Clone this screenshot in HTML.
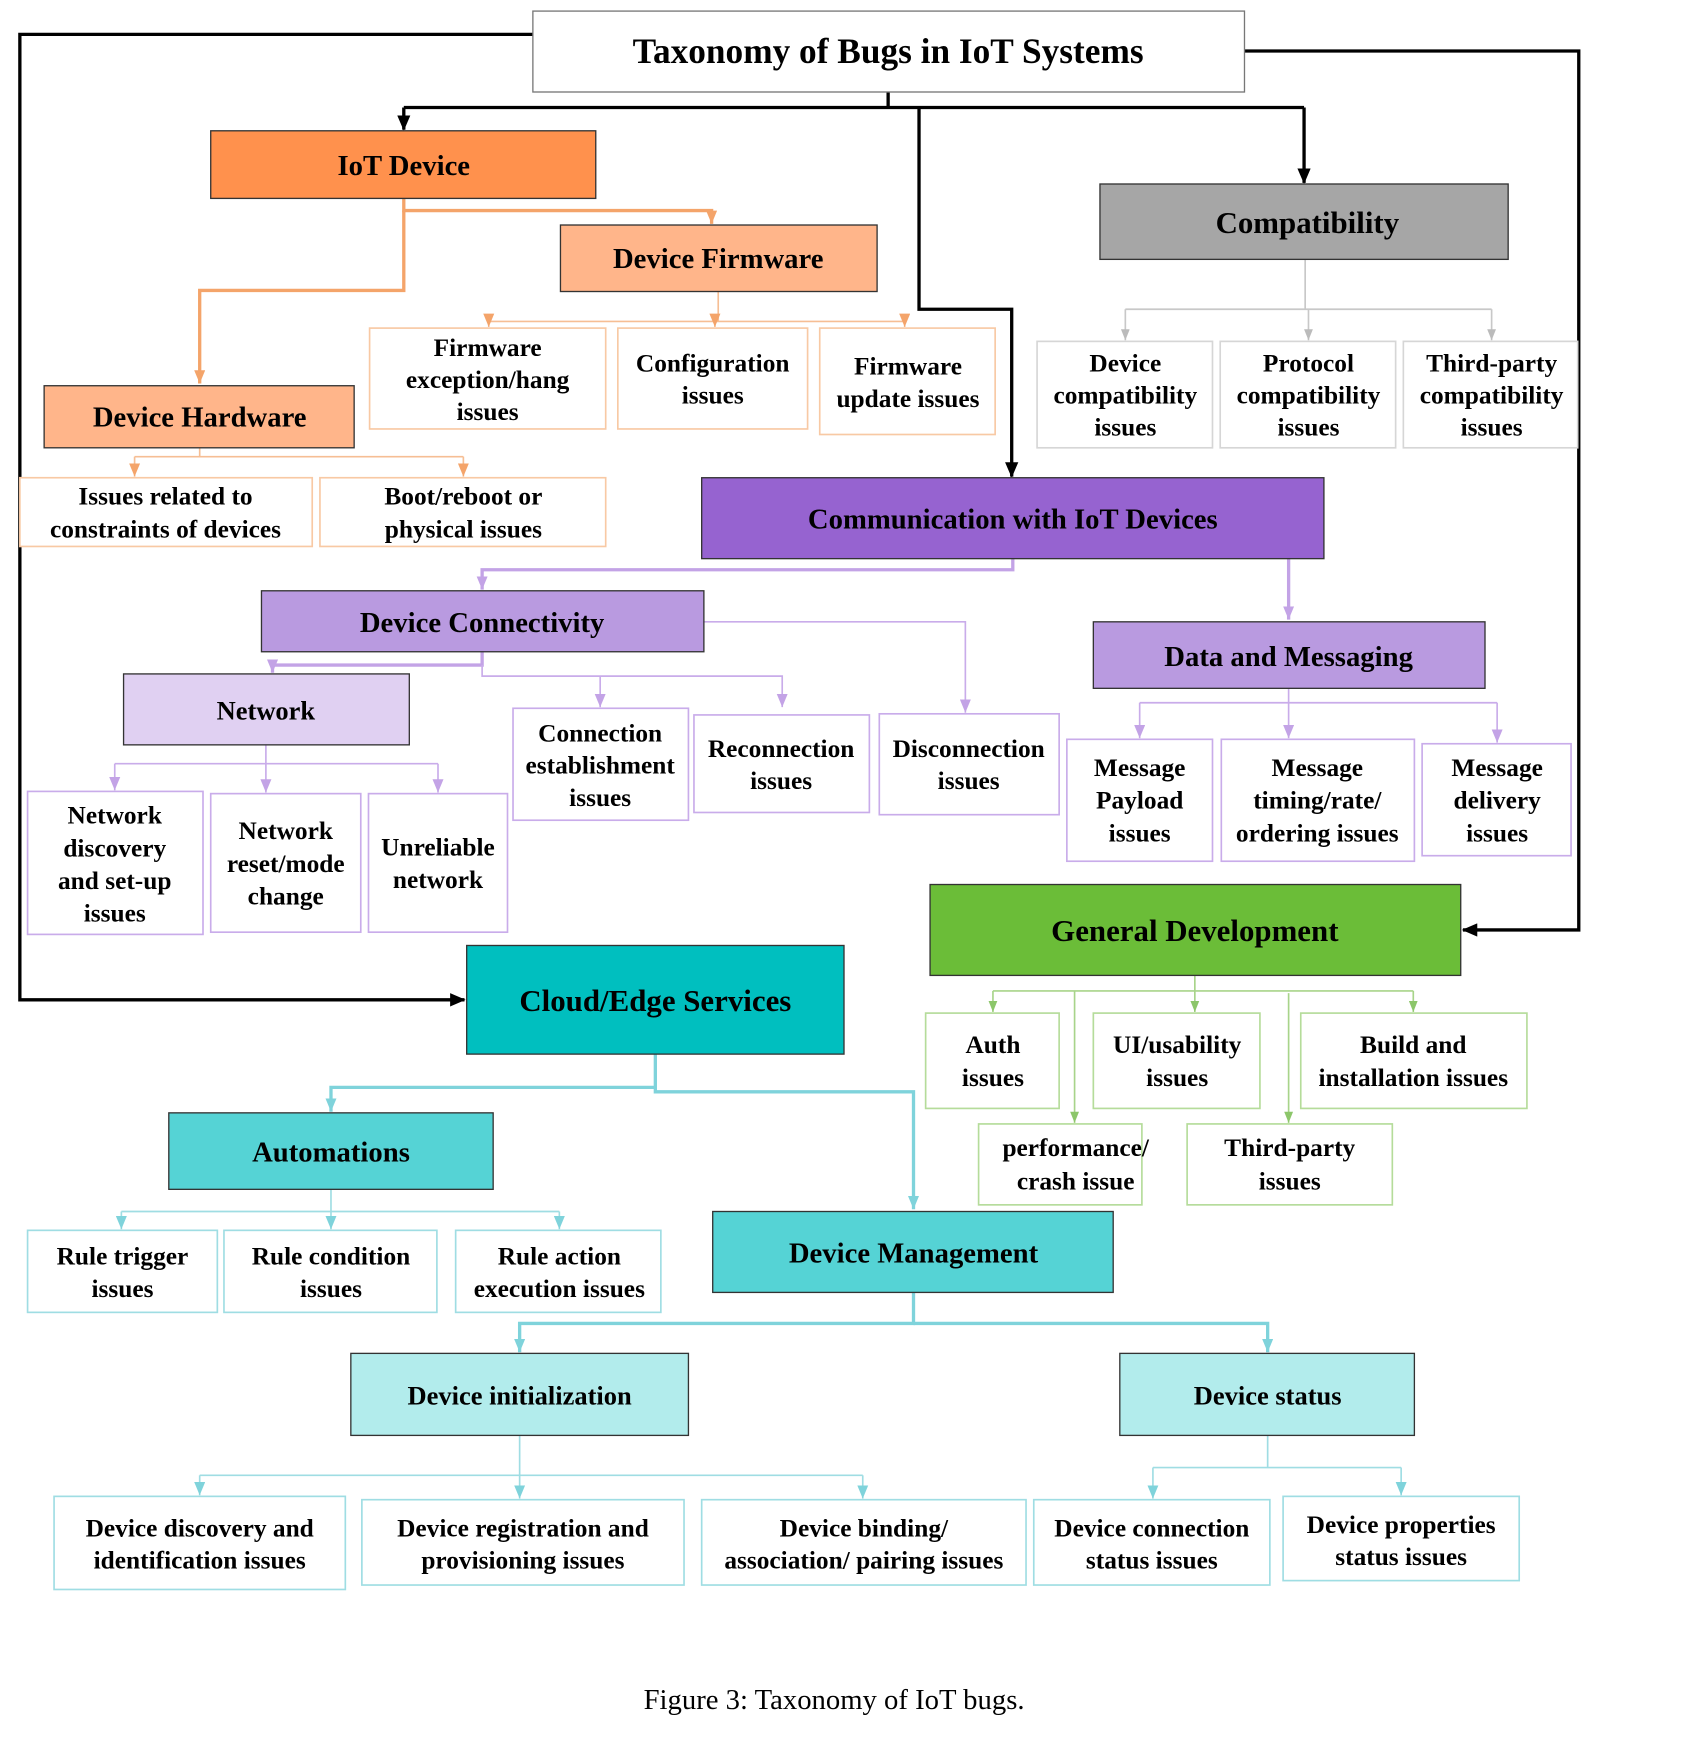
<!DOCTYPE html>
<html><head><meta charset="utf-8"><style>
html,body{margin:0;padding:0;background:#fff;width:1688px;height:1738px;overflow:hidden}
svg{display:block}
text{font-family:"Liberation Serif",serif;font-weight:bold;fill:#000;text-anchor:middle}
.t{font-size:32px}.n{font-size:26px}.l{font-size:23px}
</style></head><body>
<svg width="1688" height="1738" viewBox="0 0 1530 1568" preserveAspectRatio="none" xmlns="http://www.w3.org/2000/svg">
<defs>
<marker id="ak" markerWidth="14" markerHeight="12" refX="13" refY="6" orient="auto" markerUnits="userSpaceOnUse"><path d="M0,0 L14,6 L0,12 z" fill="#000"/></marker>
<marker id="ao" markerWidth="12" markerHeight="10" refX="12" refY="5" orient="auto" markerUnits="userSpaceOnUse"><path d="M0,0 L12,5 L0,10 z" fill="#F4A46A"/></marker>
<marker id="ag" markerWidth="10" markerHeight="8" refX="10" refY="4" orient="auto" markerUnits="userSpaceOnUse"><path d="M0,0 L10,4 L0,8 z" fill="#BBBBBB"/></marker>
<marker id="ap" markerWidth="12" markerHeight="10" refX="12" refY="5" orient="auto" markerUnits="userSpaceOnUse"><path d="M0,0 L12,5 L0,10 z" fill="#C3A3E6"/></marker>
<marker id="agr" markerWidth="10" markerHeight="8" refX="10" refY="4" orient="auto" markerUnits="userSpaceOnUse"><path d="M0,0 L10,4 L0,8 z" fill="#8CC66A"/></marker>
<marker id="at" markerWidth="12" markerHeight="10" refX="12" refY="5" orient="auto" markerUnits="userSpaceOnUse"><path d="M0,0 L12,5 L0,10 z" fill="#7FD3DB"/></marker>
</defs>

<!-- black connectors -->
<g fill="none" stroke="#000" stroke-width="3">
<path d="M483,31 H18 V902 H421" marker-end="url(#ak)"/>
<path d="M1128,46 H1431 V839 H1326" marker-end="url(#ak)"/>
<path d="M805,83 V97"/>
<path d="M366,97 H1182"/>
<path d="M366,97 V117" marker-end="url(#ak)"/>
<path d="M1182,97 V165" marker-end="url(#ak)"/>
<path d="M833,97 V279 H917 V430" marker-end="url(#ak)"/>
</g>

<!-- orange -->
<g fill="none" stroke="#F4A46A" stroke-width="3">
<path d="M366,179 V190 H645 V202" marker-end="url(#ao)"/>
<path d="M366,190 V262 H181 V346" marker-end="url(#ao)"/>
</g>
<g fill="none" stroke="#F6BE94" stroke-width="1.5">
<path d="M651,263 V290"/><path d="M443,290 H820"/>
<path d="M443,290 V295" marker-end="url(#ao)"/><path d="M648,290 V295" marker-end="url(#ao)"/><path d="M820,290 V295" marker-end="url(#ao)"/>
<path d="M181,404 V412"/><path d="M122,412 H420"/>
<path d="M122,412 V430" marker-end="url(#ao)"/><path d="M420,412 V430" marker-end="url(#ao)"/>
</g>

<!-- gray -->
<g fill="none" stroke="#C8C8C8" stroke-width="1.5">
<path d="M1183,234 V279"/><path d="M1020,279 H1352"/>
<path d="M1020,279 V307" marker-end="url(#ag)"/><path d="M1186,279 V307" marker-end="url(#ag)"/><path d="M1352,279 V307" marker-end="url(#ag)"/>
</g>

<!-- purple -->
<g fill="none" stroke="#C3A3E6" stroke-width="3">
<path d="M918,504 V514 H437 V532" marker-end="url(#ap)"/>
<path d="M1168,504 V559" marker-end="url(#ap)"/>
<path d="M437,588 V600 H247 V607" marker-end="url(#ap)"/>
</g>
<g fill="none" stroke="#C9ACEA" stroke-width="1.5">
<path d="M437,600 V610 H709 V638" marker-end="url(#ap)"/>
<path d="M544,610 V638" marker-end="url(#ap)"/>
<path d="M638,561 H875 V643" marker-end="url(#ap)"/>
<path d="M241,672 V689"/><path d="M104,689 H397"/>
<path d="M104,689 V713" marker-end="url(#ap)"/><path d="M241,689 V715" marker-end="url(#ap)"/><path d="M397,689 V715" marker-end="url(#ap)"/>
<path d="M1168,621 V634"/><path d="M1033,634 H1357"/>
<path d="M1033,634 V666" marker-end="url(#ap)"/><path d="M1168,634 V666" marker-end="url(#ap)"/><path d="M1357,634 V670" marker-end="url(#ap)"/>
</g>

<!-- green -->
<g fill="none" stroke="#A8D48A" stroke-width="1.5">
<path d="M1083,880 V894"/><path d="M900,894 H1281"/>
<path d="M900,894 V913" marker-end="url(#agr)"/><path d="M1083,894 V913" marker-end="url(#agr)"/><path d="M1281,894 V913" marker-end="url(#agr)"/>
<path d="M974,894 V1013" marker-end="url(#agr)"/><path d="M1168,896 V1013" marker-end="url(#agr)"/>
</g>

<!-- teal -->
<g fill="none" stroke="#7FD3DB" stroke-width="3">
<path d="M594,951 V985 H828 V1091" marker-end="url(#at)"/>
<path d="M594,981 H300 V1003" marker-end="url(#at)"/>
<path d="M828,1166 V1194 H471 V1220" marker-end="url(#at)"/>
<path d="M828,1194 H1149 V1220" marker-end="url(#at)"/>
</g>
<g fill="none" stroke="#9FDDE3" stroke-width="1.5">
<path d="M300,1073 V1093"/><path d="M110,1093 H507"/>
<path d="M110,1093 V1109" marker-end="url(#at)"/><path d="M300,1093 V1109" marker-end="url(#at)"/><path d="M507,1093 V1109" marker-end="url(#at)"/>
<path d="M471,1295 V1331"/><path d="M181,1331 H782"/>
<path d="M181,1331 V1349" marker-end="url(#at)"/><path d="M471,1331 V1352" marker-end="url(#at)"/><path d="M782,1331 V1352" marker-end="url(#at)"/>
<path d="M1149,1295 V1324"/><path d="M1045,1324 H1270"/>
<path d="M1045,1324 V1352" marker-end="url(#at)"/><path d="M1270,1324 V1349" marker-end="url(#at)"/>
</g>

<!-- main nodes -->
<g stroke="#333" stroke-width="1.2">
<rect x="483" y="10" width="645" height="73" fill="#fff" stroke="#777"/>
<rect x="191" y="118" width="349" height="61" fill="#FF914D"/>
<rect x="508" y="203" width="287" height="60" fill="#FFB58A"/>
<rect x="40" y="348" width="281" height="56" fill="#FFB58A"/>
<rect x="997" y="166" width="370" height="68" fill="#A6A6A6"/>
<rect x="636" y="431" width="564" height="73" fill="#9663D0"/>
<rect x="237" y="533" width="401" height="55" fill="#B99AE0"/>
<rect x="112" y="608" width="259" height="64" fill="#E0D0F2"/>
<rect x="991" y="561" width="355" height="60" fill="#B99AE0"/>
<rect x="843" y="798" width="481" height="82" fill="#6BBD38"/>
<rect x="423" y="853" width="342" height="98" fill="#00BFBF"/>
<rect x="153" y="1004" width="294" height="69" fill="#55D3D5"/>
<rect x="646" y="1093" width="363" height="73" fill="#55D3D5"/>
<rect x="318" y="1221" width="306" height="74" fill="#B2ECEC"/>
<rect x="1015" y="1221" width="267" height="74" fill="#B2ECEC"/>
</g>

<!-- leaf boxes -->
<g fill="#fff" stroke-width="1.5">
<g stroke="#F8C9A4">
<rect x="335" y="296" width="214" height="91"/><rect x="560" y="296" width="172" height="91"/><rect x="743" y="296" width="159" height="96"/>
<rect x="18" y="431" width="265" height="62"/><rect x="290" y="431" width="259" height="62"/>
</g>
<g stroke="#D6D6D6">
<rect x="940" y="308" width="159" height="96"/><rect x="1106" y="308" width="159" height="96"/><rect x="1272" y="308" width="158" height="96"/>
</g>
<g stroke="#C9ACEA">
<rect x="25" y="714" width="159" height="129"/><rect x="191" y="716" width="136" height="125"/><rect x="334" y="716" width="126" height="125"/>
<rect x="465" y="639" width="159" height="101"/><rect x="629" y="645" width="159" height="88"/><rect x="797" y="644" width="163" height="91"/>
<rect x="967" y="667" width="132" height="110"/><rect x="1107" y="667" width="175" height="110"/><rect x="1289" y="671" width="135" height="101"/>
</g>
<g stroke="#B5DC9A">
<rect x="839" y="914" width="121" height="86"/><rect x="991" y="914" width="151" height="86"/><rect x="1179" y="914" width="205" height="86"/>
<rect x="887" y="1014" width="148" height="73"/><rect x="1076" y="1014" width="186" height="73"/>
</g>
<g stroke="#9FDDE3">
<rect x="25" y="1110" width="172" height="74"/><rect x="203" y="1110" width="193" height="74"/><rect x="413" y="1110" width="186" height="74"/>
<rect x="49" y="1350" width="264" height="84"/><rect x="328" y="1353" width="292" height="77"/><rect x="636" y="1353" width="294" height="77"/>
<rect x="937" y="1353" width="214" height="77"/><rect x="1163" y="1350" width="214" height="76"/>
</g>
</g>

<!-- main labels -->
<text class="t" x="805" y="57">Taxonomy of Bugs in IoT Systems</text>
<text class="n" x="366" y="158">IoT Device</text>
<text class="n" x="651" y="242">Device Firmware</text>
<text class="n" x="181" y="385">Device Hardware</text>
<text class="n" x="1185" y="210" style="font-size:28px">Compatibility</text>
<text class="n" x="918" y="477">Communication with IoT Devices</text>
<text class="n" x="437" y="570">Device Connectivity</text>
<text class="n" x="241" y="649" style="font-size:24px">Network</text>
<text class="n" x="1168" y="601">Data and Messaging</text>
<text class="n" x="1083" y="849" style="font-size:28px">General Development</text>
<text class="n" x="594" y="912" style="font-size:28px">Cloud/Edge Services</text>
<text class="n" x="300" y="1048">Automations</text>
<text class="n" x="828" y="1139">Device Management</text>
<text class="n" x="471" y="1267" style="font-size:24px">Device initialization</text>
<text class="n" x="1149" y="1267" style="font-size:24px">Device status</text>

<!-- leaf labels -->
<g class="l" style="font-size:23px">
<text x="442" y="321"><tspan x="442">Firmware</tspan><tspan x="442" dy="29">exception/hang</tspan><tspan x="442" dy="29">issues</tspan></text>
<text x="646" y="335"><tspan x="646">Configuration</tspan><tspan x="646" dy="29">issues</tspan></text>
<text x="823" y="338"><tspan x="823">Firmware</tspan><tspan x="823" dy="29">update issues</tspan></text>
<text x="150" y="455"><tspan x="150">Issues related to</tspan><tspan x="150" dy="30">constraints of devices</tspan></text>
<text x="420" y="455"><tspan x="420">Boot/reboot or</tspan><tspan x="420" dy="30">physical issues</tspan></text>
<text x="1020" y="335"><tspan x="1020">Device</tspan><tspan x="1020" dy="29">compatibility</tspan><tspan x="1020" dy="29">issues</tspan></text>
<text x="1186" y="335"><tspan x="1186">Protocol</tspan><tspan x="1186" dy="29">compatibility</tspan><tspan x="1186" dy="29">issues</tspan></text>
<text x="1352" y="335"><tspan x="1352">Third-party</tspan><tspan x="1352" dy="29">compatibility</tspan><tspan x="1352" dy="29">issues</tspan></text>
<text x="104" y="743"><tspan x="104">Network</tspan><tspan x="104" dy="29.5">discovery</tspan><tspan x="104" dy="29.5">and set-up</tspan><tspan x="104" dy="29.5">issues</tspan></text>
<text x="259" y="757"><tspan x="259">Network</tspan><tspan x="259" dy="29.5">reset/mode</tspan><tspan x="259" dy="29.5">change</tspan></text>
<text x="397" y="772"><tspan x="397">Unreliable</tspan><tspan x="397" dy="29">network</tspan></text>
<text x="544" y="669"><tspan x="544">Connection</tspan><tspan x="544" dy="29">establishment</tspan><tspan x="544" dy="29">issues</tspan></text>
<text x="708" y="683"><tspan x="708">Reconnection</tspan><tspan x="708" dy="29">issues</tspan></text>
<text x="878" y="683"><tspan x="878">Disconnection</tspan><tspan x="878" dy="29">issues</tspan></text>
<text x="1033" y="700"><tspan x="1033">Message</tspan><tspan x="1033" dy="29.5">Payload</tspan><tspan x="1033" dy="29.5">issues</tspan></text>
<text x="1194" y="700"><tspan x="1194">Message</tspan><tspan x="1194" dy="29.5">timing/rate/</tspan><tspan x="1194" dy="29.5">ordering issues</tspan></text>
<text x="1357" y="700"><tspan x="1357">Message</tspan><tspan x="1357" dy="29.5">delivery</tspan><tspan x="1357" dy="29.5">issues</tspan></text>
<text x="900" y="950"><tspan x="900">Auth</tspan><tspan x="900" dy="30">issues</tspan></text>
<text x="1067" y="950"><tspan x="1067">UI/usability</tspan><tspan x="1067" dy="30">issues</tspan></text>
<text x="1281" y="950"><tspan x="1281">Build and</tspan><tspan x="1281" dy="30">installation issues</tspan></text>
<text x="975" y="1043"><tspan x="975">performance/</tspan><tspan x="975" dy="30">crash issue</tspan></text>
<text x="1169" y="1043"><tspan x="1169">Third-party</tspan><tspan x="1169" dy="30">issues</tspan></text>
<text x="111" y="1141"><tspan x="111">Rule trigger</tspan><tspan x="111" dy="29">issues</tspan></text>
<text x="300" y="1141"><tspan x="300">Rule condition</tspan><tspan x="300" dy="29">issues</tspan></text>
<text x="507" y="1141"><tspan x="507">Rule action</tspan><tspan x="507" dy="29">execution issues</tspan></text>
<text x="181" y="1386"><tspan x="181">Device discovery and</tspan><tspan x="181" dy="29">identification issues</tspan></text>
<text x="474" y="1386"><tspan x="474">Device registration and</tspan><tspan x="474" dy="29">provisioning issues</tspan></text>
<text x="783" y="1386"><tspan x="783">Device binding/</tspan><tspan x="783" dy="29">association/ pairing issues</tspan></text>
<text x="1044" y="1386"><tspan x="1044">Device connection</tspan><tspan x="1044" dy="29">status issues</tspan></text>
<text x="1270" y="1383"><tspan x="1270">Device properties</tspan><tspan x="1270" dy="29">status issues</tspan></text>
</g>

<text x="756" y="1542" style="font-size:26px;font-weight:normal">Figure 3: Taxonomy of IoT bugs.</text>
</svg>
</body></html>
